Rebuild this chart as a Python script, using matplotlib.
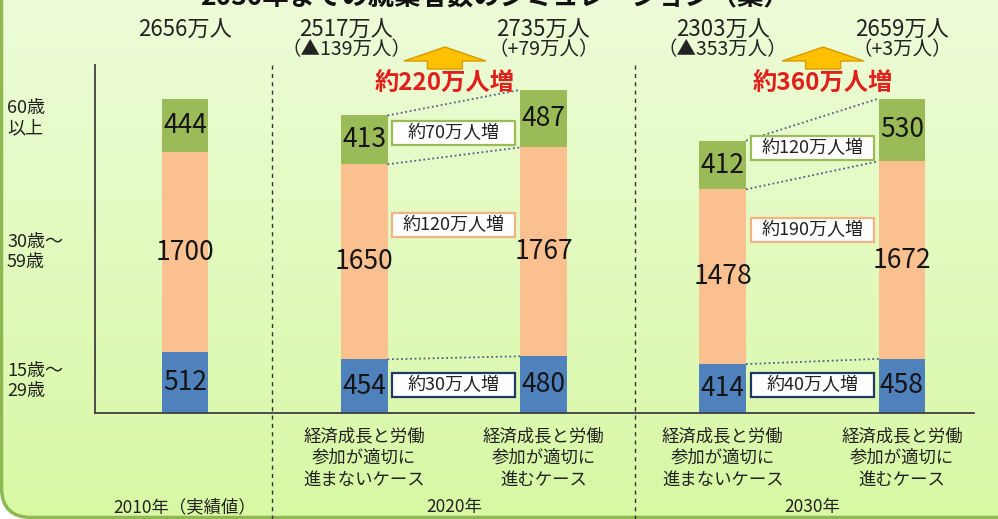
import numpy as np
import matplotlib
matplotlib.use("Agg")
import matplotlib.pyplot as plt
from matplotlib.patches import FancyBboxPatch, FancyArrow, Rectangle
from matplotlib.colors import LinearSegmentedColormap

plt.rcParams['font.family'] = ['Noto Sans CJK JP', 'DejaVu Sans']

# 就業者数（万人）: 2010実績, 2020(進まない/進む), 2030(進まない/進む)
young = np.array([512, 454, 480, 414, 458])
middle = np.array([1700, 1650, 1767, 1478, 1672])
senior = np.array([444, 413, 487, 412, 530])
totals = ["2656万人", "2517万人", "2735万人", "2303万人", "2659万人"]
changes = ["", "（▲139万人）", "（+79万人）", "（▲353万人）", "（+3万人）"]
case_slow = "経済成長と労働\n参加が適切に\n進まないケース"
case_fast = "経済成長と労働\n参加が適切に\n進むケース"
cases = ["", case_slow, case_fast, case_slow, case_fast]
years = ["2010年（実績値）", "2020年", "2030年"]
age_groups = ["60歳\n以上", "30歳～\n59歳", "15歳～\n29歳"]
pairs = [(1, 2), (3, 4)]
inc_total = ["約220万人増", "約360万人増"]
inc_senior = ["約70万人増", "約120万人増"]
inc_middle = ["約120万人増", "約190万人増"]
inc_young = ["約30万人増", "約40万人増"]

c_young = '#4f81bd'
c_middle = '#fac090'
c_senior = '#9bbb59'

W, H = 998, 519
fig = plt.figure(figsize=(W / 100, H / 100), dpi=100)
fig.patch.set_facecolor('white')

# background panel (rounded, light green gradient)
bg = fig.add_axes([0, 0, 1, 1], zorder=-10)
bg.set_xlim(0, W)
bg.set_ylim(0, H)
bg.axis('off')
cmap = LinearSegmentedColormap.from_list('bg', ['#d8f8a4', '#edfcd8'])
grad = np.linspace(0, 1, 256).reshape(-1, 1)
im = bg.imshow(grad, extent=[0, W, 0, H], cmap=cmap, aspect='auto', origin='lower')
panel = FancyBboxPatch((1.5, 1.5), 1400, 800, boxstyle='round,pad=0,rounding_size=30',
                       fc='none', ec='#8fb852', lw=2.5)
bg.add_patch(panel)
im.set_clip_path(panel)

# main axes: plot area in pixels x 95..974, y 65..413
ax_top, ax_bot = 65, 413
ax = fig.add_axes([95 / W, 1 - ax_bot / H, 879 / W, (ax_bot - ax_top) / H])
ax.patch.set_alpha(0)
ax.set_xlim(-0.502, 4.402)
ax.set_ylim(0, 2944)
ax.set_xticks([])
ax.set_yticks([])
for s in ['top', 'right']:
    ax.spines[s].set_visible(False)
for s in ['left', 'bottom']:
    ax.spines[s].set_color('#404040')
    ax.spines[s].set_linewidth(1.3)


def ay(py):
    # pixel row -> axes fraction
    return (ax_bot - py) / (ax_bot - ax_top)


trans = ax.get_xaxis_transform()
x = np.arange(len(young))
w = 0.26
head_shift = [0, -0.1, 0, 0, 0]  # header text of the first 2020 bar sits a bit left

ax.bar(x, young, w, color=c_young)
ax.bar(x, middle, w, bottom=young, color=c_middle)
ax.bar(x, senior, w, bottom=young + middle, color=c_senior)

for i in range(len(x)):
    for b, h in [(0, young[i]), (young[i], middle[i]), (young[i] + middle[i], senior[i])]:
        ax.text(x[i], b + h / 2, str(h), ha='center', va='center', fontsize=19, color='#151515')
    xh = x[i] + head_shift[i]
    ax.text(xh, ay(30), totals[i], transform=trans, ha='center', va='center', fontsize=16,
            color='#222', clip_on=False)
    if changes[i]:
        ax.text(xh, ay(50), changes[i], transform=trans, ha='center', va='center',
                fontsize=14, color='#222', clip_on=False)
    if cases[i]:
        ax.text(x[i], ay(458), cases[i], transform=trans, ha='center', va='center',
                fontsize=12.5, linespacing=1.25, color='#222', clip_on=False)

# dotted connectors between the scenario bars
levels = [young, young + middle, young + middle + senior]
box_rows = [[133, 225, 385], [148, 230, 385]]
box_cols = ['#9bbb59', '#f4b183', '#1f3864']
for k, (a, b) in enumerate(pairs):
    for lv in levels:
        ax.plot([x[a] + w / 2, x[b] - w / 2], [lv[a], lv[b]], ls=(0, (1, 1.5)),
                color='#50608a', lw=1.3)
    xc = (x[a] + x[b]) / 2
    labels = [inc_senior[k], inc_middle[k], inc_young[k]]
    for py, lab, col in zip(box_rows[k], labels, box_cols):
        ax.add_patch(Rectangle((xc - 0.343, ay(py) - 0.0345), 0.686, 0.069, transform=trans,
                               fc='white', ec=col, lw=1.6, zorder=3))
        ax.text(xc, ay(py), lab, transform=trans, ha='center', va='center', fontsize=13,
                color='#222', zorder=4)
    xa = xc - 0.05 if k == 0 else xc + 0.06
    ax.add_patch(FancyArrow(xa, ay(69), 0, ay(47) - ay(69), width=0.195, head_width=0.457,
                            head_length=ay(47) - ay(61), length_includes_head=True,
                            transform=trans, fc='#ffc000', ec='#d99a00', lw=1,
                            clip_on=False, zorder=3))
    ax.text(xa, ay(84), inc_total[k], transform=trans, ha='center', va='center', fontsize=17.5,
            fontweight='bold', color='#e0201b', clip_on=False)

# dashed dividers between years
for xd in [0.485, 2.51]:
    ax.plot([xd, xd], [1.0, -0.31], transform=trans, ls=(0, (3, 3)), color='#333', lw=1,
            clip_on=False)

# year labels
for xy, lab in zip([0, 1.5, 3.5], years):
    ax.text(xy, ay(507), lab, transform=trans, ha='center', va='center', fontsize=12.5,
            color='#222', clip_on=False)

# age group labels on the left
for py, lab in zip([118, 252, 381], age_groups):
    fig.text(7 / W, 1 - py / H, lab, ha='left', va='center', fontsize=13,
             linespacing=1.2, color='#222')

# title (cut off by the top edge in the original)
fig.text(0.496, 1.004, "2030年までの就業者数のシミュレーション（案）", ha='center', va='center',
         fontsize=19, fontweight='bold', color='#111')

fig.savefig('out.png', dpi=100)
